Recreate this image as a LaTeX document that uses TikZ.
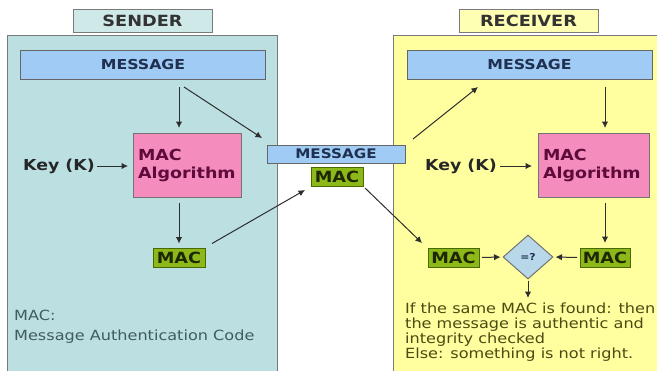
\documentclass[tikz,border=0pt]{standalone}
\usepackage{fontspec}
\setmainfont{DejaVu Sans}[FakeStretch=1.15]
\usetikzlibrary{arrows.meta,shapes.geometric}
\definecolor{sendbg}{HTML}{BCDFE2}
\definecolor{sendlbl}{HTML}{CFE8E8}
\definecolor{recvbg}{HTML}{FFFFA0}
\definecolor{recvlbl}{HTML}{FFFFB4}
\definecolor{msgfill}{HTML}{A0CBF5}
\definecolor{msgtext}{HTML}{1F3050}
\definecolor{algfill}{HTML}{F48CBE}
\definecolor{algtext}{HTML}{5E0A3A}
\definecolor{macfill}{HTML}{8DB81A}
\definecolor{macdraw}{HTML}{4A6A00}
\definecolor{mactext}{HTML}{1E2800}
\definecolor{diafill}{HTML}{B8D8EA}
\definecolor{restext}{HTML}{4A4A12}
\definecolor{legtext}{HTML}{3F5C5E}
\definecolor{arrcol}{HTML}{2E2E2E}
\definecolor{bordercol}{HTML}{7A7A7A}
\begin{document}
\begin{tikzpicture}[x=1bp,y=-1bp,
  rbox/.style={rectangle,inner sep=0pt,outer sep=0pt,draw=bordercol,line width=1bp},
  panel/.style={rbox,fill=#1},
  lblbox/.style={rbox,fill=#1,font=\fontsize{15.4bp}{17bp}\bfseries,text=black!80},
  msgbox/.style={rbox,fill=msgfill,draw=black!60,text=msgtext,font=\fontsize{13.7bp}{16bp}\bfseries},
  algbox/.style={rbox,fill=algfill,draw=black!55,text=algtext,align=left,inner xsep=5bp,
    font=\fontsize{15.2bp}{18bp}\bfseries},
  macbox/.style={rbox,fill=macfill,draw=macdraw,text=mactext,minimum width=52bp,minimum height=19bp,
    font=\fontsize{15.4bp}{17bp}\bfseries},
  keytext/.style={inner sep=0pt,text=black!85,font=\fontsize{15.1bp}{17bp}\bfseries},
  arr/.style={draw=arrcol,line width=1bp,-{Latex[length=6.5bp,width=6.5bp]}}]
\useasboundingbox (0,0) rectangle (657,370);
\begin{scope}
\clip (0,0) rectangle (657,370);
\node[panel=sendbg,minimum width=269bp,minimum height=340bp] (sender) at (142.5,205) {};
\node[panel=recvbg,minimum width=269bp,minimum height=340bp] (receiver) at (527.5,205) {};
\end{scope}
\node[lblbox=sendlbl,minimum width=139bp,minimum height=23bp] (senderlbl) at (142.5,20.5) {SENDER};
\node[lblbox=recvlbl,minimum width=139bp,minimum height=23bp] (receiverlbl) at (528.5,20.5) {RECEIVER};
% sender
\node[msgbox,minimum width=244bp,minimum height=29bp] (smsg) at (143,64.5) {MESSAGE};
\node[algbox,text width=98bp,minimum height=64bp] (salg) at (187,165) {MAC\\Algorithm};
\node[keytext] (skey) at (59,166) {Key (K)};
\node[macbox] (smac) at (179,258) {MAC};
\node[inner sep=0pt,anchor=north west,align=left,text=legtext,font=\fontsize{14bp}{20bp}\selectfont] (legend) at (14,310)
  {MAC:\\Message Authentication Code};
% centre
\node[msgbox,minimum width=138bp,minimum height=18bp,font=\fontsize{13.2bp}{15bp}\bfseries] (cmsg) at (336,154) {MESSAGE};
\node[macbox] (cmac) at (337,176.5) {MAC};
% receiver
\node[msgbox,minimum width=245bp,minimum height=29bp] (rmsg) at (529.5,64.5) {MESSAGE};
\node[algbox,text width=101bp,minimum height=64bp] (ralg) at (593.5,165) {MAC\\Algorithm};
\node[keytext] (rkey) at (461,166) {Key (K)};
\node[macbox,minimum width=51bp] (rmacl) at (453.5,257.5) {MAC};
\node[macbox,minimum width=50bp] (rmacr) at (605,257.5) {MAC};
\node[diamond,draw=black!55,line width=1bp,fill=diafill,inner sep=0pt,minimum width=50bp,minimum height=44bp,
  text=msgtext,font=\fontsize{9.5bp}{11bp}\bfseries] (dia) at (528,257) {=?};
\node[inner sep=0pt,anchor=north west,align=left,text=restext,font=\fontsize{14bp}{15bp}\selectfont] (res) at (405,303)
  {If the same MAC is found: then\\the message is authentic and\\integrity checked\\Else: something is not right.};
% sender arrows
\draw[arr,shorten <=8bp,shorten >=5bp] (smsg.south -| smac.north) -- (salg.north -| smac.north);
\draw[arr] ([xshift=41bp,yshift=-8bp]smsg.south) -- ([xshift=-5bp,yshift=7bp]cmsg.north west);
\draw[arr,shorten <=2bp,shorten >=5bp] (skey.east) -- (salg.west |- skey.east);
\draw[arr,shorten <=6bp,shorten >=5bp] (salg.south -| smac.north) -- (smac.north);
\draw[arr] ([xshift=7bp,yshift=5bp]smac.north east) -- ([xshift=-6bp,yshift=-4bp]cmac.south west);
% centre to receiver
\draw[arr] ([xshift=2bp,yshift=-2bp]cmac.south east) -- ([xshift=-6bp,yshift=5bp]rmacl.north west);
\draw[arr] ([xshift=8bp,yshift=6bp]cmsg.north east) -- ([xshift=-51.5bp,yshift=-8bp]rmsg.south);
% receiver arrows
\draw[arr,shorten <=8bp,shorten >=5bp] (rmsg.south -| rmacr.north) -- (ralg.north -| rmacr.north);
\draw[arr,shorten <=3bp,shorten >=6bp] (rkey.east) -- (ralg.west |- rkey.east);
\draw[arr,shorten <=6bp,shorten >=5bp] (ralg.south -| rmacr.north) -- (rmacr.north);
\draw[arr,shorten <=3bp,shorten >=2bp] (rmacl.east) -- (dia.west);
\draw[arr,shorten <=3bp,shorten >=2bp] (rmacr.west) -- (dia.east);
\draw[arr,shorten <=1bp,shorten >=5bp] (dia.south) -- (dia.south |- res.north);
\end{tikzpicture}
\end{document}
